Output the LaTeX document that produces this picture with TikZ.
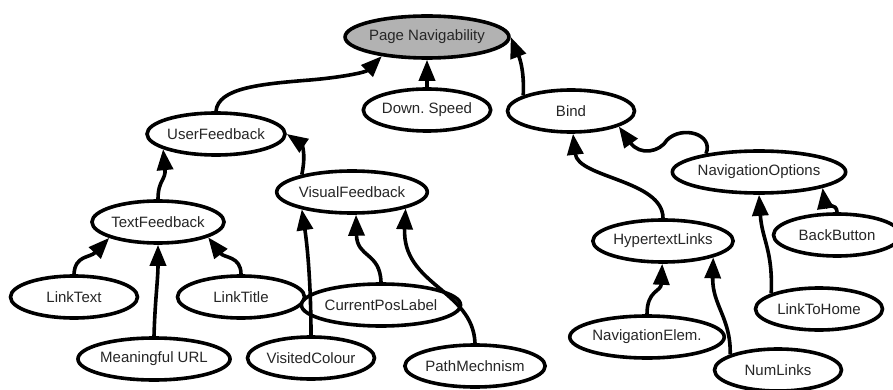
\documentclass[tikz,border=0pt]{standalone}
\usepackage{fontspec}
\setmainfont{Liberation Sans}
\frenchspacing
\usetikzlibrary{shapes.geometric,arrows.meta}
\begin{document}
\begin{tikzpicture}[x=1pt,y=-1pt,
  nd/.style={ellipse, draw=black, line width=3.6pt, fill=white,
    minimum width=127pt, minimum height=42pt, inner sep=0pt,
    font=\fontsize{15}{17}\selectfont, text=black!85},
  root/.style={nd, fill=black!30},
  lnk/.style={line width=3.6pt, -{Triangle[length=21pt,width=16pt]}}]
\useasboundingbox (0,0) rectangle (893,390);

% goal and its factors
\node[root] (pn)   at (427,37)  {Page Navigability};
\node[nd]   (ds)   at (427,110) {Down. Speed};
\node[nd]   (bind) at (571,111) {Bind};
\node[nd]   (uf)   at (216,134) {UserFeedback};
\node[nd]   (vf)   at (352,192) {VisualFeedback};
\node[nd]   (tf)   at (158,222) {TextFeedback};
\node[nd]   (lt)   at (74,297)  {LinkText};
\node[nd]   (lti)  at (241,297) {LinkTitle};
\node[nd]   (mu)   at (154,359) {Meaningful URL};
\node[nd]   (vc)   at (311,358) {VisitedColour};
\node[nd]   (cpl)  at (381,305) {CurrentPosLabel};
\node[nd]   (pm)   at (475,366) {PathMechnism};
\node[nd]   (hl)   at (663,241) {HypertextLinks};
\node[nd]   (no)   at (759,172) {NavigationOptions};
\node[nd]   (bb)   at (837,235) {BackButton};
\node[nd]   (lth)  at (819,309) {LinkToHome};
\node[nd]   (ne)   at (647,337) {NavigationElem.};
\node[nd]   (nl)   at (778,370) {NumLinks};

% influence links
\draw[lnk] (uf.north) .. controls (218,88) and (260,84) .. (310,80)
  .. controls (345,77) and (366,72) .. (pn.203);
\draw[lnk] (ds.north) -- (pn.south);
\draw[lnk] (bind.162) .. controls (525,62) and (515,48) .. (pn.east);
\draw[lnk] (vf.161) .. controls (307,150) and (300,143) .. (uf.east);
\draw[lnk] (tf.north) .. controls (158,180) and (166,180) .. (uf.196);
\draw[lnk] (lt.north) .. controls (75,255) and (90,258) .. (tf.198);
\draw[lnk] (mu.north) .. controls (155,300) and (158,280) .. (tf.south);
\draw[lnk] (lti.north) .. controls (241,256) and (224,258) .. (tf.-17);
\draw[lnk] (vc.north) .. controls (311,290) and (308,250) .. (vf.199);
\draw[lnk] (cpl.north) .. controls (380,252) and (357,258) .. (vf.-80);
\draw[lnk] (pm.north) .. controls (473,290) and (402,285) .. (vf.-17);
\draw[lnk] (hl.north) .. controls (663,180) and (578,178) .. (bind.-85);
\draw[lnk] (no.161) .. controls (714,134) and (682,125) .. (667,140)
  .. controls (660,152) and (640,156) .. (bind.-18);
\draw[lnk] (bb.north) .. controls (837,203) and (825,205) .. (no.-14);
\draw[lnk] (lth.162) .. controls (773,250) and (762,240) .. (no.south);
\draw[lnk] (ne.north) .. controls (647,290) and (661,292) .. (hl.-92);
\draw[lnk] (nl.162) .. controls (731,318) and (712,305) .. (hl.-18);
\end{tikzpicture}
\end{document}
